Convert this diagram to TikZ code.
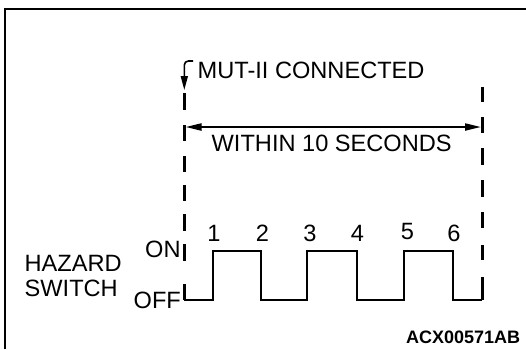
\documentclass[tikz,border=0pt]{standalone}
\usepackage{fontspec}
\setmainfont{Liberation Sans}
\usetikzlibrary{arrows.meta}
\begin{document}
\begin{tikzpicture}[x=1pt,y=-1pt,
  lbl/.style={font=\fontsize{23.6}{28}\selectfont, inner sep=0pt, anchor=base west},
  num/.style={font=\fontsize{23.6}{28}\selectfont, inner sep=0pt, anchor=base},
  code/.style={font=\fontsize{18}{21}\selectfont\bfseries, inner sep=0pt, anchor=base west},
  wave/.style={line width=2pt, line join=miter},
  dsh/.style={line width=2.5pt},
  frame/.style={line width=2pt},
  dim/.style={line width=2pt, {Triangle[length=16pt,width=7pt]}-{Triangle[length=16pt,width=7pt]}},
  hook/.style={line width=1.6pt, rounded corners=4pt, -{Triangle[length=14pt,width=7pt]}}]
\useasboundingbox (0,0) rectangle (526,349);
\fill[white] (0,0) rectangle (526,349);
% frame
\coordinate (ftr) at (526,9);
\coordinate (ftl) at (4.5,9);
\coordinate (fbl) at (4.5,349);
\draw[frame] (ftr) -- (ftl) -- (fbl);
% dashed marker lines
\foreach \a/\b in {93/110,125/141,156/172,185/201,214/231,244/261,284/300}
  \draw[dsh] (184.3,\a) -- (184.3,\b);
\foreach \a/\b in {87/102,117/133,148/165,180/197,212/228,245/260,277/300}
  \draw[dsh] (482.3,\a) -- (482.3,\b);
% labels
\node[lbl] (mut) at (197.5,78) {MUT-II CONNECTED};
\coordinate (hs) at (193,61);
\coordinate (ht) at (184.3,90);
\draw[hook] (hs) -| (ht);
\coordinate (al) at (185.5,127);
\coordinate (ar) at (481,127);
\draw[dim] (al) -- (ar);
\node[lbl] (within) at (211.5,151.7) {WITHIN 10 SECONDS};
\node[lbl] (haz) at (24.5,271.5) {HAZARD};
\node[lbl] (sw) at (24.5,296) {SWITCH};
\node[lbl] (on) at (145,257) {ON};
\node[lbl] (off) at (133.5,308) {OFF};
% waveform
\coordinate (w0) at (184.3,300);
\coordinate (e1) at (212.5,251);
\coordinate (e2) at (260.5,300);
\coordinate (e3) at (307,251);
\coordinate (e4) at (357,300);
\coordinate (e5) at (404,251);
\coordinate (e6) at (452.5,300);
\coordinate (w7) at (482.3,300);
\draw[wave] (w0) -| (e1) -| (e2) -| (e3) -| (e4) -| (e5) -| (e6) -- (w7);
\node[num] (n1) at (214,241.5) {1};
\node[num] (n2) at (262.5,241.5) {2};
\node[num] (n3) at (310,241.5) {3};
\node[num] (n4) at (357.5,241) {4};
\node[num] (n5) at (407.5,239.5) {5};
\node[num] (n6) at (454,241.5) {6};
\node[code] (id) at (406,343.5) {ACX00571AB};
\end{tikzpicture}
\end{document}
